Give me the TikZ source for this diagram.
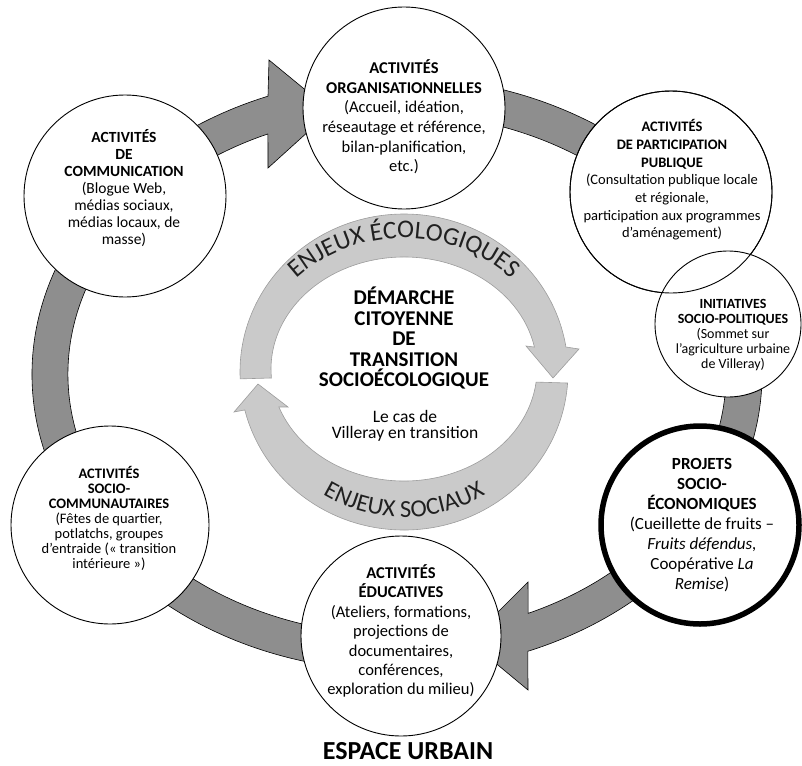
\documentclass[tikz,border=0pt]{standalone}
\usepackage{fontspec}
\setmainfont{Carlito}
\usetikzlibrary{decorations.text,shapes.geometric}
\definecolor{darkband}{HTML}{8E8E8E}
\definecolor{lightband}{HTML}{CACACA}
\definecolor{lightedge}{HTML}{9C9C9C}
\definecolor{ringtext}{HTML}{202020}
\begin{document}
\begin{tikzpicture}[x=1pt,y=-1pt,
  bubble/.style={circle, draw=black, line width=0.9pt, fill=white, inner sep=0pt},
  bubbletext/.style={align=center, inner sep=0pt, text=black},
  darkarrow/.style={fill=darkband, draw=black, line width=0.6pt, line join=miter},
  lightarrow/.style={fill=lightband, draw=lightedge, line width=0.6pt},
  ringlabel/.style={decorate, decoration={text along path, text align=center, text color=ringtext}},
]
\useasboundingbox (0,0) rectangle (802,765);
\coordinate (rc) at (397,374);
\coordinate (lo) at (404,372);
\coordinate (li) at (404,369);

% big dark ring: two block arrows
\draw[darkarrow] ([shift={(rc)}]95:365 and 297) arc[start angle=95,end angle=249.3,x radius=365,y radius=297]
  -- (269,60) -- (331,111) -- (268,168)
  -- ([shift={(rc)}]246.9:329 and 261) arc[start angle=246.9,end angle=95,x radius=329,y radius=261] -- cycle;
\draw[darkarrow] ([shift={(rc)}]260:365 and 297) arc[start angle=260,end angle=429,x radius=365,y radius=297]
  -- (528,690) -- (469,641) -- (528,582)
  -- ([shift={(rc)}]426.5:329 and 261) arc[start angle=426.5,end angle=260,x radius=329,y radius=261] -- cycle;

% inner light ring: two block arrows
\draw[lightarrow] ([shift={(lo)}]177.5:164 and 158) arc[start angle=177.5,end angle=350.9,x radius=164,y radius=158]
  -- (579,349) -- (553,378) -- (526,346)
  -- ([shift={(li)}]348.7:133 and 112) arc[start angle=348.7,end angle=175.4,x radius=133,y radius=112] -- cycle;
\draw[lightarrow] ([shift={(lo)}]4:164 and 158) arc[start angle=4,end angle=166.1,x radius=164,y radius=158]
  -- (234,412) -- (258,384) -- (288,407)
  -- ([shift={(li)}]160.2:133 and 112) arc[start angle=160.2,end angle=6.7,x radius=133,y radius=112] -- cycle;

\path[ringlabel, decoration={text={|\fontsize{25.5}{25.5}\selectfont|ENJEUX ÉCOLOGIQUES}}]
  ([shift={(404,376)}]200:152 and 138) arc[start angle=200,end angle=340,x radius=152,y radius=138];
\path[ringlabel, decoration={text={|\fontsize{24.5}{24.5}\selectfont|ENJEUX SOCIAUX}}]
  ([shift={(404,378)}]145:150 and 139) arc[start angle=145,end angle=35,x radius=150,y radius=139];

% circles
\node[bubble, minimum size=202pt] (org) at (404,108) {};
\node[bubble, minimum size=202pt] (com) at (125,196) {};
\node[bubble, minimum size=202pt] (par) at (671,192) {};
\node[bubble, minimum size=146pt] (ini) at (728,324) {};
\draw[line width=0.9pt] (par) circle[radius=101];
\node[bubble, minimum size=198pt, line width=5.5pt] (pro) at (700,525) {};
\node[bubble, minimum size=200pt] (edu) at (401,636) {};
\node[bubble, minimum size=198pt] (soc) at (110,525) {};

% texts
\node[bubbletext, font=\fontsize{16.5}{19.6}\selectfont] (orgt) at (404,117)
  {\textbf{ACTIVITÉS}\\\textbf{ORGANISATIONNELLES}\\(Accueil, idéation,\\réseautage et référence,\\bilan-planification,\\etc.)};
\node[bubbletext, font=\fontsize{15.5}{16.9}\selectfont] (comt) at (124,188)
  {\textbf{ACTIVITÉS}\\\textbf{DE}\\\textbf{COMMUNICATION}\\(Blogue Web,\\médias sociaux,\\médias locaux, de\\masse)};
\node[bubbletext, font=\fontsize{14.5}{17.7}\selectfont] (part) at (672,180)
  {\textbf{ACTIVITÉS}\\\textbf{DE PARTICIPATION}\\\textbf{PUBLIQUE}\\(Consultation publique locale\\et régionale,\\participation aux programmes\\d’aménagement)};
\node[bubbletext, font=\fontsize{14}{15.2}\selectfont] (init) at (733,335)
  {\textbf{INITIATIVES}\\\textbf{SOCIO-POLITIQUES}\\(Sommet sur\\l’agriculture urbaine\\de Villeray)};
\node[bubbletext, font=\fontsize{17}{20}\selectfont] (prot) at (702,525)
  {\textbf{PROJETS}\\\textbf{SOCIO-}\\\textbf{ÉCONOMIQUES}\\(Cueillette de fruits –\\\textit{Fruits défendus,}\\Coopérative \textit{La}\\\textit{Remise})};
\node[bubbletext, font=\fontsize{16.5}{19.4}\selectfont] (edut) at (401,631)
  {\textbf{ACTIVITÉS}\\\textbf{ÉDUCATIVES}\\(Ateliers, formations,\\projections de\\documentaires,\\conférences,\\exploration du milieu)};
\node[bubbletext, font=\fontsize{14.5}{15}\selectfont] (soct) at (109,518)
  {\textbf{ACTIVITÉS}\\\textbf{SOCIO-}\\\textbf{COMMUNAUTAIRES}\\(Fêtes de quartier,\\potlatchs, groupes\\d’entraide («~transition\\intérieure~»)};

\node[bubbletext, font=\fontsize{21}{20.5}\selectfont\bfseries] (title) at (404,338)
  {DÉMARCHE\\CITOYENNE\\DE\\TRANSITION\\SOCIOÉCOLOGIQUE};
\node[bubbletext, font=\fontsize{17.5}{16}\selectfont] (sub) at (405,426)
  {Le cas de\\Villeray en transition};
\node[bubbletext, font=\fontsize{26}{26}\selectfont\bfseries] (esp) at (408,751) {ESPACE URBAIN};
\end{tikzpicture}
\end{document}
